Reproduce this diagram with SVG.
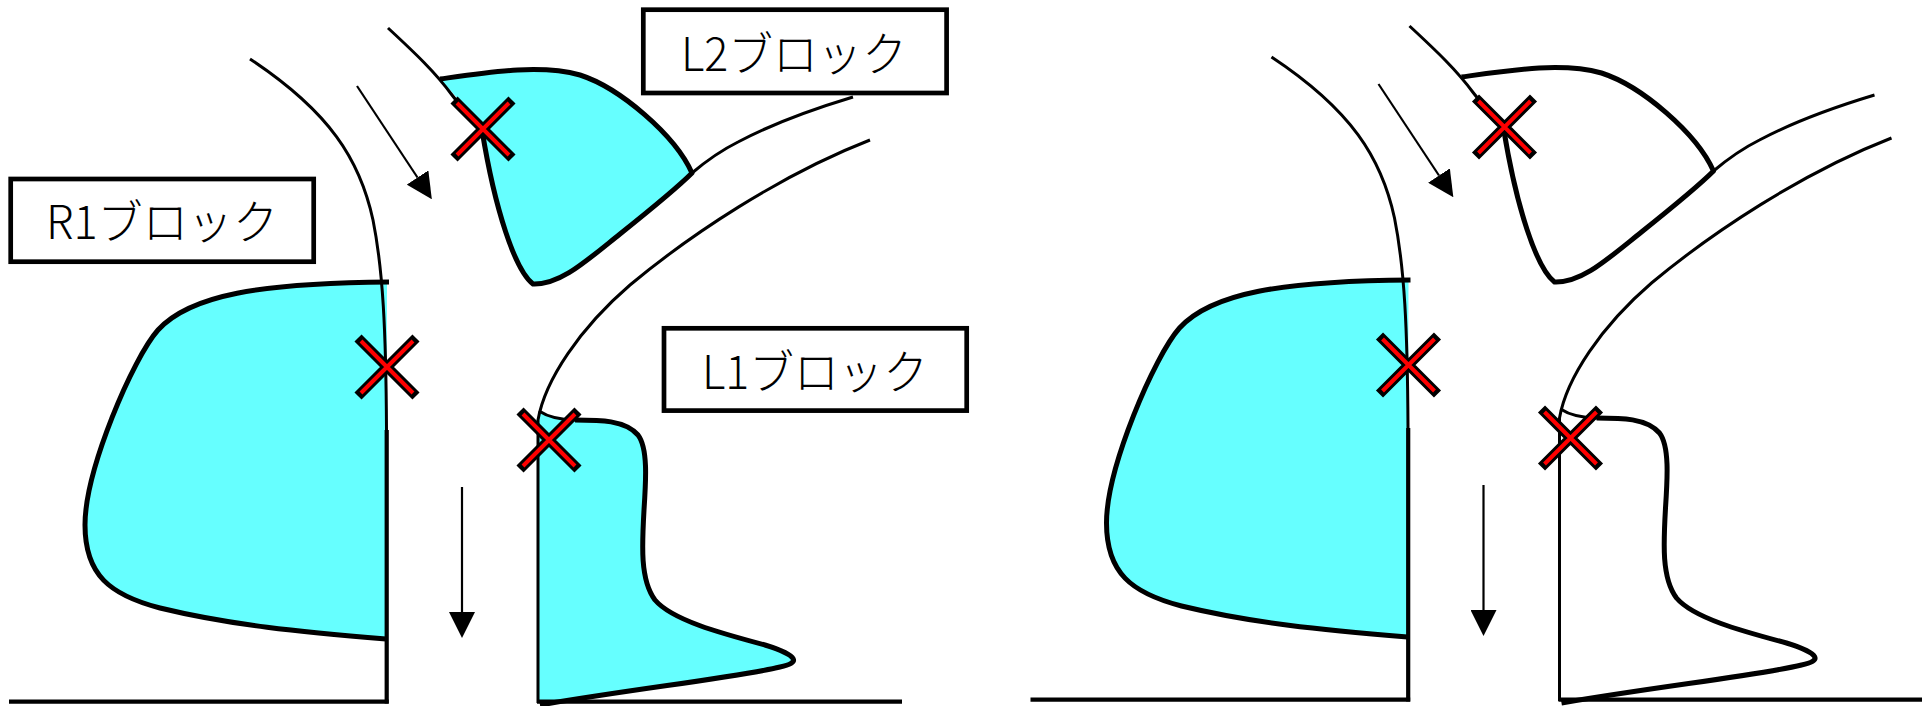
<svg xmlns="http://www.w3.org/2000/svg" width="1922" height="706" viewBox="0 0 1922 706">
  <style>
    .bg { fill: #ffffff; }
    .blob { fill: #66ffff; stroke: none; }
    .edge { fill: none; stroke: #000; stroke-width: 5; stroke-linejoin: round; stroke-linecap: butt; }
    .thin { fill: none; stroke: #000; stroke-width: 3; stroke-linecap: butt; }
    .base { fill: none; stroke: #000; stroke-width: 4.2; }
    .flow { fill: none; stroke: #000; stroke-width: 2.2; marker-end: url(#ah); }
    .box { fill: #ffffff; stroke: #000; stroke-width: 4.7; }
    .lbl { font-family: "Noto Sans CJK JP", "Noto Sans", sans-serif; font-size: 47px; font-weight: 300; fill: #000; }
  </style>
  <defs>
    <marker id="ah" markerUnits="userSpaceOnUse" markerWidth="26" markerHeight="26" viewBox="0 0 26 26" refX="0" refY="13" orient="auto">
      <path d="M0,0 L26,13 L0,26 Z" fill="#000"/>
    </marker>
    <g id="xm">
      <path d="M-29,-29 L29,29 M29,-29 L-29,29" stroke="#000" stroke-width="10" fill="none"/>
      <path d="M-26,-26 L26,26 M26,-26 L-26,26" stroke="#ff0000" stroke-width="4" fill="none"/>
    </g>
  </defs>
  <rect class="bg" x="0" y="0" width="1922" height="706"/>

  <!-- left section: all three blocks shaded -->
  <g id="left">
    <g id="r1-block-l">
      <path class="blob" d="M387,282 C260,283 190,295 158,330 C133,358 85,470 85,525 C85,575 110,595 160,608 C230,625 300,632 386,639 Z"/>
      <path class="edge" d="M389,282 C260,283 190,295 158,330 C133,358 85,470 85,525 C85,575 110,595 160,608 C230,625 300,632 386,639"/>
    </g>
    <g id="l2-block-l">
      <path class="blob" d="M440,79 C490,72 540,64 580,75 C620,88 675,135 692,173 C675,190 650,210 620,234 C585,262 560,285 533,284 C515,270 495,210 482,130 C470,112 455,95 440,79 Z"/>
      <path class="edge" d="M440,79 C490,72 540,64 580,75 C620,88 675,135 692,173 C675,190 650,210 620,234 C585,262 560,285 533,284 C515,270 495,210 482,130"/>
    </g>
    <g id="l1-block-l">
      <path class="blob" d="M538,412 C548,417 560,420 575,420 C600,420 625,420 638,435 C648,448 646,480 644,510 C642,545 640,580 655,600 C672,620 720,633 765,645 C800,656 800,663 780,667 C740,677 640,688 545,703 L538,703 Z"/>
      <path class="thin" d="M539,411 C548,417 560,420 577,420"/>
      <path class="edge" d="M575,420 C600,420 625,420 638,435 C648,448 646,480 644,510 C642,545 640,580 655,600 C672,620 720,633 765,645 C800,656 800,663 780,667 C740,677 640,688 540,705"/>
    </g>
    <g id="walls-l">
      <path class="thin" d="M250,59 C330,112 360,160 373,220 C383,270 386,330 386.5,430"/>
      <path class="base" d="M386.7,430 L386.7,703.5"/>
      <path class="base" d="M9,701.6 L388.7,701.6"/>
      <path class="thin" d="M388,28 C415,53 435,72 452,95 C465,112 475,120 482,130"/>
      <path class="thin" d="M692,173 C705,162 722,150 738,142 C770,125 810,110 853,97"/>
      <path class="thin" d="M870,140 C780,175 690,235 630,285 C580,328 545,380 538,420 L538,703"/>
      <path class="base" d="M537,701.6 L902,701.6"/>
    </g>
    <g id="flows-l">
      <path class="flow" d="M357,86 L417.5,177.5"/>
      <path class="flow" d="M462,487 L462,612"/>
    </g>
    <g id="cuts-l">
      <use href="#xm" x="387" y="367"/>
      <use href="#xm" x="483" y="129"/>
      <use href="#xm" x="549" y="440"/>
    </g>
    <g id="label-r1">
      <rect class="box" x="10.7" y="179" width="303" height="82.7"/>
      <text class="lbl" x="162" y="239" text-anchor="middle" textLength="232" lengthAdjust="spacingAndGlyphs">R1ブロック</text>
    </g>
    <g id="label-l2">
      <rect class="box" x="643.3" y="9.7" width="303.3" height="83.3"/>
      <text class="lbl" x="794" y="71" text-anchor="middle" textLength="226" lengthAdjust="spacingAndGlyphs">L2ブロック</text>
    </g>
    <g id="label-l1">
      <rect class="box" x="664" y="328.3" width="302.7" height="82.3"/>
      <text class="lbl" x="815" y="389" text-anchor="middle" textLength="226" lengthAdjust="spacingAndGlyphs">L1ブロック</text>
    </g>
  </g>

  <!-- right section: only the R1 block shaded -->
  <g id="right" transform="translate(1021.5,-2)">
    <g id="r1-block-r">
      <path class="blob" d="M387,282 C260,283 190,295 158,330 C133,358 85,470 85,525 C85,575 110,595 160,608 C230,625 300,632 386,639 Z"/>
      <path class="edge" d="M389,282 C260,283 190,295 158,330 C133,358 85,470 85,525 C85,575 110,595 160,608 C230,625 300,632 386,639"/>
    </g>
    <g id="l2-block-r">
      <path class="edge" d="M440,79 C490,72 540,64 580,75 C620,88 675,135 692,173 C675,190 650,210 620,234 C585,262 560,285 533,284 C515,270 495,210 482,130"/>
    </g>
    <g id="l1-block-r">
      <path class="thin" d="M539,411 C548,417 560,420 577,420"/>
      <path class="edge" d="M575,420 C600,420 625,420 638,435 C648,448 646,480 644,510 C642,545 640,580 655,600 C672,620 720,633 765,645 C800,656 800,663 780,667 C740,677 640,688 540,705"/>
    </g>
    <g id="walls-r">
      <path class="thin" d="M250,59 C330,112 360,160 373,220 C383,270 386,330 386.5,430"/>
      <path class="base" d="M386.7,430 L386.7,703.5"/>
      <path class="base" d="M9,701.6 L388.7,701.6"/>
      <path class="thin" d="M388,28 C415,53 435,72 452,95 C465,112 475,120 482,130"/>
      <path class="thin" d="M692,173 C705,162 722,150 738,142 C770,125 810,110 853,97"/>
      <path class="thin" d="M870,140 C780,175 690,235 630,285 C580,328 545,380 538,420 L538,703"/>
      <path class="base" d="M537,701.6 L902,701.6"/>
    </g>
    <g id="flows-r">
      <path class="flow" d="M357,86 L417.5,177.5"/>
      <path class="flow" d="M462,487 L462,612"/>
    </g>
    <g id="cuts-r">
      <use href="#xm" x="387" y="367"/>
      <use href="#xm" x="483" y="129"/>
      <use href="#xm" x="549" y="440"/>
    </g>
  </g>
</svg>
